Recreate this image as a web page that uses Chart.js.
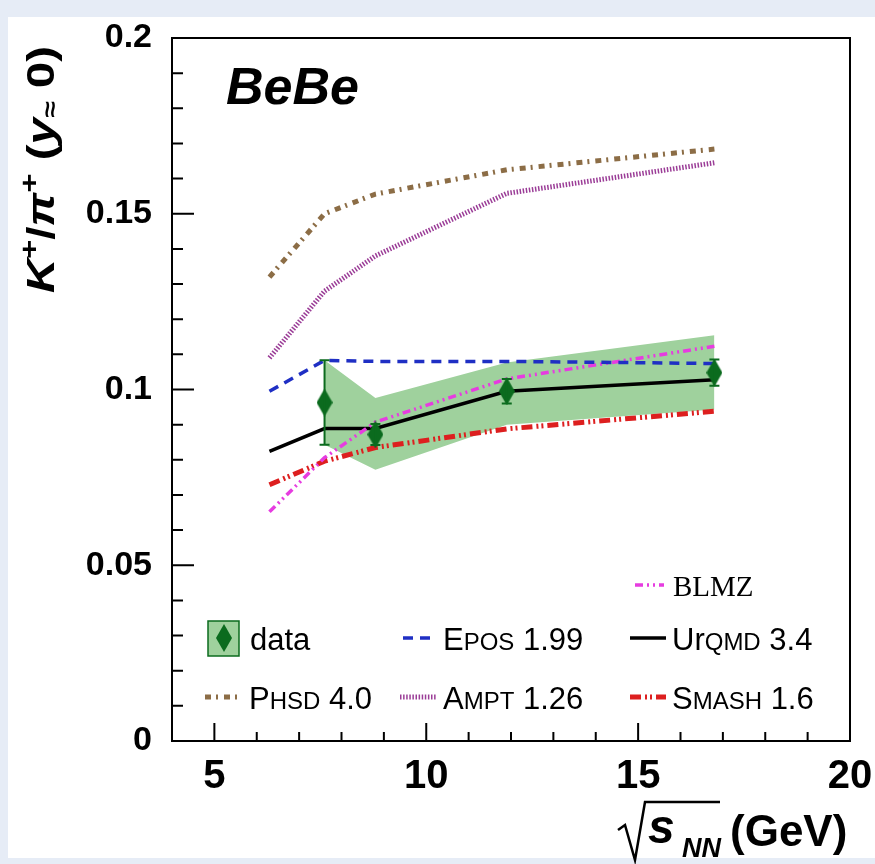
<!DOCTYPE html>
<html>
<head>
<meta charset="utf-8">
<script src="https://cdn.jsdelivr.net/npm/chart.js@4.4.1/dist/chart.umd.min.js"></script>
<style>
  html, body { margin: 0; padding: 0; background: #e6ecf6; }
  #wrap { position: absolute; left: 0; top: 0; width: 875px; height: 864px; }
</style>
</head>
<body>
<div id="wrap"><canvas id="myChart" width="875" height="864"></canvas></div>
<script>
// collision energies (GeV)
const modelEnergy = [6.3, 7.6, 8.8, 11.9, 16.8];
const dataEnergy = [7.6, 8.8, 11.9, 16.8];

// model curves, K+/pi+ at midrapidity
const phsd  = [0.132, 0.150, 0.1556, 0.1625, 0.1684];
const ampt  = [0.109, 0.128, 0.138, 0.1558, 0.1645];
const epos  = [0.0995, 0.1083, 0.108, 0.108, 0.1074];
const urqmd = [0.0824, 0.0889, 0.0889, 0.0995, 0.1028];
const blmz  = [0.0652, 0.0806, 0.0907, 0.103, 0.1123];
const smash = [0.0729, 0.0796, 0.0835, 0.0888, 0.0938];

// measurement
const dataValue = [0.0963, 0.0872, 0.0995, 0.1048];
const statErr   = [0.012, 0.003, 0.0035, 0.0037];
const sysHigh   = [0.1083, 0.0976, 0.1077, 0.1154];
const sysLow    = [0.0843, 0.0772, 0.0900, 0.0943];

// axis ticks
const xTicks = [5, 10, 15, 20];
const yTicks = [0, 0.05, 0.1, 0.15, 0.2];
const yTickLabels = ['0', '0.05', '0.1', '0.15', '0.2'];

const dataGreen = '#0b6b1e';
const bandGreen = '#9fd19d';

const styles = {
    phsd:  { color: '#8c6d46', width: 5,   dash: [6, 5, 2, 6] },
    ampt:  { color: '#9b3d97', width: 5,   dash: [1.5, 1.6] },
    epos:  { color: '#1f2fc4', width: 3.5, dash: [10, 7] },
    urqmd: { color: '#000000', width: 3.5, dash: [] },
    blmz:  { color: '#e63ce0', width: 3.5, dash: [8, 4, 2, 4, 2, 4] },
    smash: { color: '#dd1f1f', width: 5,   dash: [11, 4, 2, 3, 2, 4] }
};

function pts(xs, ys) {
    return xs.map((x, i) => ({ x: x, y: ys[i] }));
}

// tall diamond marker
const diamond = document.createElement('canvas');
diamond.width = 16;
diamond.height = 28;
(function () {
    const c = diamond.getContext('2d');
    c.fillStyle = dataGreen;
    c.beginPath();
    c.moveTo(8, 0); c.lineTo(16, 14); c.lineTo(8, 28); c.lineTo(0, 14);
    c.closePath();
    c.fill();
})();

function lineSet(label, values, st) {
    return {
        label: label,
        data: pts(modelEnergy, values),
        borderColor: st.color,
        borderWidth: st.width,
        borderDash: st.dash,
        borderCapStyle: 'butt',
        pointRadius: 0,
        fill: false,
        tension: 0,
        order: 5
    };
}

// page background + white panel
const backgroundPlugin = {
    id: 'bg',
    beforeDraw(chart) {
        const ctx = chart.ctx;
        ctx.save();
        ctx.fillStyle = '#e6ecf6';
        ctx.fillRect(0, 0, chart.width, chart.height);
        ctx.fillStyle = '#ffffff';
        ctx.fillRect(8, 17, chart.width - 8, chart.height - 23);
        ctx.restore();
    }
};

// error bars, frame, inward ticks
const framePlugin = {
    id: 'frame',
    afterDatasetsDraw(chart) {
        const ctx = chart.ctx;
        const xs = chart.scales.x, ys = chart.scales.y;
        const a = chart.chartArea;
        ctx.save();
        // stat error bars
        ctx.strokeStyle = dataGreen;
        ctx.lineWidth = 2;
        dataEnergy.forEach((e, i) => {
            const px = xs.getPixelForValue(e);
            const top = ys.getPixelForValue(dataValue[i] + statErr[i]);
            const bot = ys.getPixelForValue(dataValue[i] - statErr[i]);
            ctx.beginPath();
            ctx.moveTo(px, top); ctx.lineTo(px, bot);
            ctx.moveTo(px - 5, top); ctx.lineTo(px + 5, top);
            ctx.moveTo(px - 5, bot); ctx.lineTo(px + 5, bot);
            ctx.stroke();
        });
        // frame
        ctx.strokeStyle = '#000';
        ctx.lineWidth = 2;
        ctx.strokeRect(a.left, a.top, a.right - a.left, a.bottom - a.top);
        // ticks
        ctx.beginPath();
        for (let v = 5; v <= 20; v++) {
            const px = xs.getPixelForValue(v);
            const len = v % 5 === 0 ? 18 : 9;
            ctx.moveTo(px, a.bottom); ctx.lineTo(px, a.bottom - len);
        }
        for (let k = 0; k <= 20; k++) {
            const py = ys.getPixelForValue(k / 100);
            const len = k % 5 === 0 ? 22 : 11;
            ctx.moveTo(a.left, py); ctx.lineTo(a.left + len, py);
        }
        ctx.stroke();
        ctx.restore();
    }
};

function drawParts(ctx, parts, x, y, size, family) {
    parts.forEach(p => {
        const fs = Math.round(size * p[1]);
        ctx.font = fs + 'px ' + family;
        ctx.fillText(p[0], x, y);
        x += ctx.measureText(p[0]).width;
    });
}

function sample(ctx, st, x1, x2, y) {
    ctx.save();
    ctx.strokeStyle = st.color;
    ctx.lineWidth = st.width;
    ctx.setLineDash(st.dash);
    ctx.beginPath();
    ctx.moveTo(x1, y); ctx.lineTo(x2, y);
    ctx.stroke();
    ctx.restore();
}

// legend, labels, axis titles
const textPlugin = {
    id: 'texts',
    afterDraw(chart) {
        const ctx = chart.ctx;
        const sans = '"Liberation Sans", Arial, sans-serif';
        ctx.save();
        ctx.fillStyle = '#000';
        ctx.textBaseline = 'alphabetic';

        // BeBe label
        ctx.font = 'italic bold 52px ' + sans;
        ctx.fillText('BeBe', 226, 104);

        // legend
        const sc = 0.76;
        const fs = 31;
        sample(ctx, styles.blmz, 635, 664, 585);
        ctx.font = '29px "Liberation Serif", "Times New Roman", serif';
        ctx.fillText('BLMZ', 673, 596);

        ctx.fillStyle = bandGreen;
        ctx.fillRect(208, 621, 31, 35);
        ctx.strokeStyle = dataGreen;
        ctx.lineWidth = 1.5;
        ctx.strokeRect(208, 621, 31, 35);
        ctx.drawImage(diamond, 216, 624);
        ctx.fillStyle = '#000';
        ctx.font = fs + 'px ' + sans;
        ctx.fillText('data', 250, 650);

        sample(ctx, styles.epos, 403, 436, 638);
        drawParts(ctx, [['E', 1], ['POS', sc], [' 1.99', 1]], 443, 650, fs, sans);
        sample(ctx, styles.urqmd, 630, 666, 638);
        drawParts(ctx, [['U', 1], ['r', 1], ['QMD', sc], [' 3.4', 1]], 672, 650, fs, sans);

        sample(ctx, styles.phsd, 205, 241, 697);
        drawParts(ctx, [['P', 1], ['HSD', sc], [' 4.0', 1]], 249, 709, fs, sans);
        sample(ctx, styles.ampt, 400, 436, 697);
        drawParts(ctx, [['A', 1], ['MPT', sc], [' 1.26', 1]], 443, 709, fs, sans);
        sample(ctx, styles.smash, 630, 666, 697);
        drawParts(ctx, [['S', 1], ['MASH', sc], [' 1.6', 1]], 672, 709, fs, sans);

        // x title: sqrt(s_NN) (GeV)
        ctx.strokeStyle = '#000';
        ctx.lineWidth = 2.5;
        ctx.beginPath();
        ctx.moveTo(618, 830); ctx.lineTo(625, 825); ctx.lineTo(635, 860);
        ctx.lineTo(645, 802); ctx.lineTo(720, 802);
        ctx.stroke();
        ctx.font = 'italic bold 48px ' + sans;
        ctx.fillText('s', 648, 843);
        ctx.font = 'italic bold 27px ' + sans;
        ctx.fillText('NN', 682, 857);
        ctx.font = 'bold 44px ' + sans;
        ctx.fillText('(GeV)', 730, 846);

        // y title, rotated and stretched to span the reference length
        ctx.translate(54, 293);
        ctx.rotate(-Math.PI / 2);
        const yParts = [
            ['K', 'italic bold 38px', 0],
            ['+', 'bold 26px', -16],
            ['/', 'bold 38px', 0],
            ['\u03c0', 'italic bold 38px', 0],
            ['+', 'bold 26px', -16],
            [' (', 'bold 38px', 0],
            ['y', 'italic bold 38px', 0],
            ['\u2248', 'bold 24px', 4],
            [' 0)', 'bold 38px', 0]
        ];
        let total = 0;
        yParts.forEach(p => {
            ctx.font = p[1] + ' ' + sans;
            total += ctx.measureText(p[0]).width;
        });
        ctx.scale(247 / total, 1);
        let px = 0;
        yParts.forEach(p => {
            ctx.font = p[1] + ' ' + sans;
            ctx.fillText(p[0], px, p[2]);
            px += ctx.measureText(p[0]).width;
        });
        ctx.restore();
    }
};

const ctx = document.getElementById('myChart').getContext('2d');
const myChart = new Chart(ctx, {
    type: 'line',
    data: {
        datasets: [
            {
                label: 'sys high',
                data: pts(dataEnergy, sysHigh),
                borderWidth: 0,
                pointRadius: 0,
                backgroundColor: bandGreen,
                fill: '+1',
                tension: 0,
                order: 10
            },
            {
                label: 'sys low',
                data: pts(dataEnergy, sysLow),
                borderWidth: 0,
                pointRadius: 0,
                fill: false,
                tension: 0,
                order: 10
            },
            lineSet('PHSD 4.0', phsd, styles.phsd),
            lineSet('AMPT 1.26', ampt, styles.ampt),
            lineSet('EPOS 1.99', epos, styles.epos),
            lineSet('BLMZ', blmz, styles.blmz),
            lineSet('SMASH 1.6', smash, styles.smash),
            lineSet('UrQMD 3.4', urqmd, styles.urqmd),
            {
                label: 'data',
                data: pts(dataEnergy, dataValue),
                showLine: false,
                pointStyle: diamond,
                pointRadius: 8,
                order: 0
            }
        ]
    },
    options: {
        responsive: false,
        animation: false,
        events: [],
        layout: {
            autoPadding: false,
            padding: { left: 0, top: 38, right: 25, bottom: 0 }
        },
        plugins: {
            legend: { display: false },
            tooltip: { enabled: false }
        },
        scales: {
            x: {
                type: 'linear',
                min: 4,
                max: 20,
                grid: { display: false, drawTicks: false },
                border: { display: false },
                afterBuildTicks: s => { s.ticks = xTicks.map(v => ({ value: v })); },
                afterFit: s => { s.height = 123; s.paddingLeft = 0; s.paddingRight = 0; },
                ticks: {
                    color: '#000',
                    padding: 12,
                    maxRotation: 0,
                    font: { family: '"Liberation Sans", Arial, sans-serif', size: 40, weight: 'bold' },
                    callback: v => String(v)
                }
            },
            y: {
                type: 'linear',
                min: 0,
                max: 0.2,
                grid: { display: false, drawTicks: false },
                border: { display: false },
                afterBuildTicks: s => { s.ticks = yTicks.map(v => ({ value: v })); },
                afterFit: s => { s.width = 172; s.paddingTop = 0; s.paddingBottom = 0; },
                ticks: {
                    color: '#000',
                    padding: 20,
                    font: { family: '"Liberation Sans", Arial, sans-serif', size: 34, weight: 'bold' },
                    callback: v => yTickLabels[yTicks.indexOf(v)]
                }
            }
        }
    },
    plugins: [backgroundPlugin, framePlugin, textPlugin]
});
</script>
</body>
</html>
